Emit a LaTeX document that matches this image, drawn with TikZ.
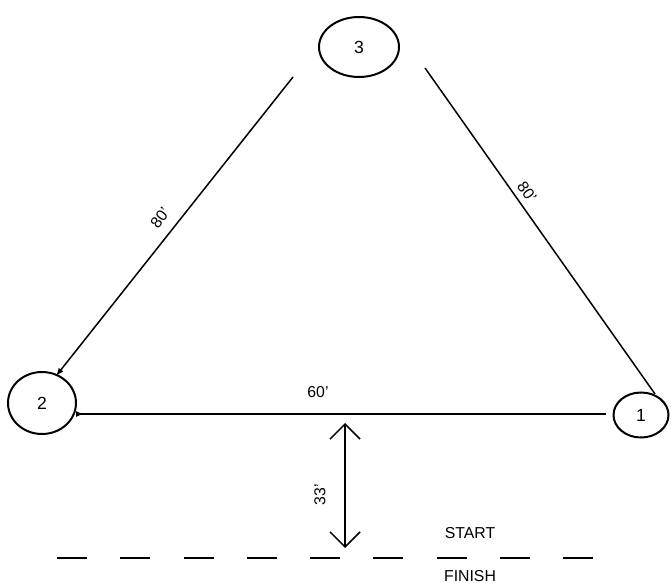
\documentclass[tikz,border=0pt]{standalone}
\usepackage{fontspec}
\setmainfont{Liberation Sans}
\usetikzlibrary{arrows.meta, shapes.geometric}

\begin{document}
\begin{tikzpicture}[
    x=0.2mm, y=-0.2mm,
    >=Stealth,
    marker/.style={draw, ellipse, line width=0.4mm, inner sep=0pt, font=\normalsize},
    leg/.style={line width=0.3mm},
    every node/.style={font=\small}
  ]
  \useasboundingbox (0,0) rectangle (671,583);

  % Markers
  \node[marker, minimum width=16mm, minimum height=12mm] (m3) at (359,47) {3};
  \node[marker, minimum width=13.6mm, minimum height=12.4mm] (m2) at (42,403) {2};
  \node[marker, minimum width=11mm, minimum height=9mm] (m1) at (641,415) {1};

  % Course legs
  \coordinate (l3) at (293,77);
  \coordinate (l2) at (56,376);
  \coordinate (r3) at (425,68);
  \coordinate (r1) at (655,394);
  \coordinate (b2) at (76,414);
  \coordinate (b1) at (606,414);
  \draw[leg, -{Latex[length=1.6mm,width=1.2mm]}] (l3) -- (l2);
  \draw[leg] (r3) -- (r1);
  \draw[leg, {Latex[length=1.6mm,width=1.2mm,reversed]}-] (b2) -- (b1);

  % Distances
  \node[rotate=53] (d23) at (160,218) {80'};
  \node[rotate=-55] (d31) at (527,192) {80'};
  \node (d21) at (318,392) {60'};

  % Start line
  \coordinate (s0) at (57,558);
  \coordinate (s1) at (596,558);
  \draw[leg, dash pattern=on 6mm off 6.65mm] (s0) -- (s1);
  \coordinate (a0) at (345,423);
  \coordinate (a1) at (345,548);
  \draw[leg, {Straight Barb[length=3mm,width=6mm]}-{Straight Barb[length=3mm,width=6mm]}] (a0) -- (a1);
  \node[rotate=90] (d33) at (320,495) {33'};
  \node (st) at (470,533) {START};
  \node (fi) at (470,576) {FINISH};
\end{tikzpicture}
\end{document}
